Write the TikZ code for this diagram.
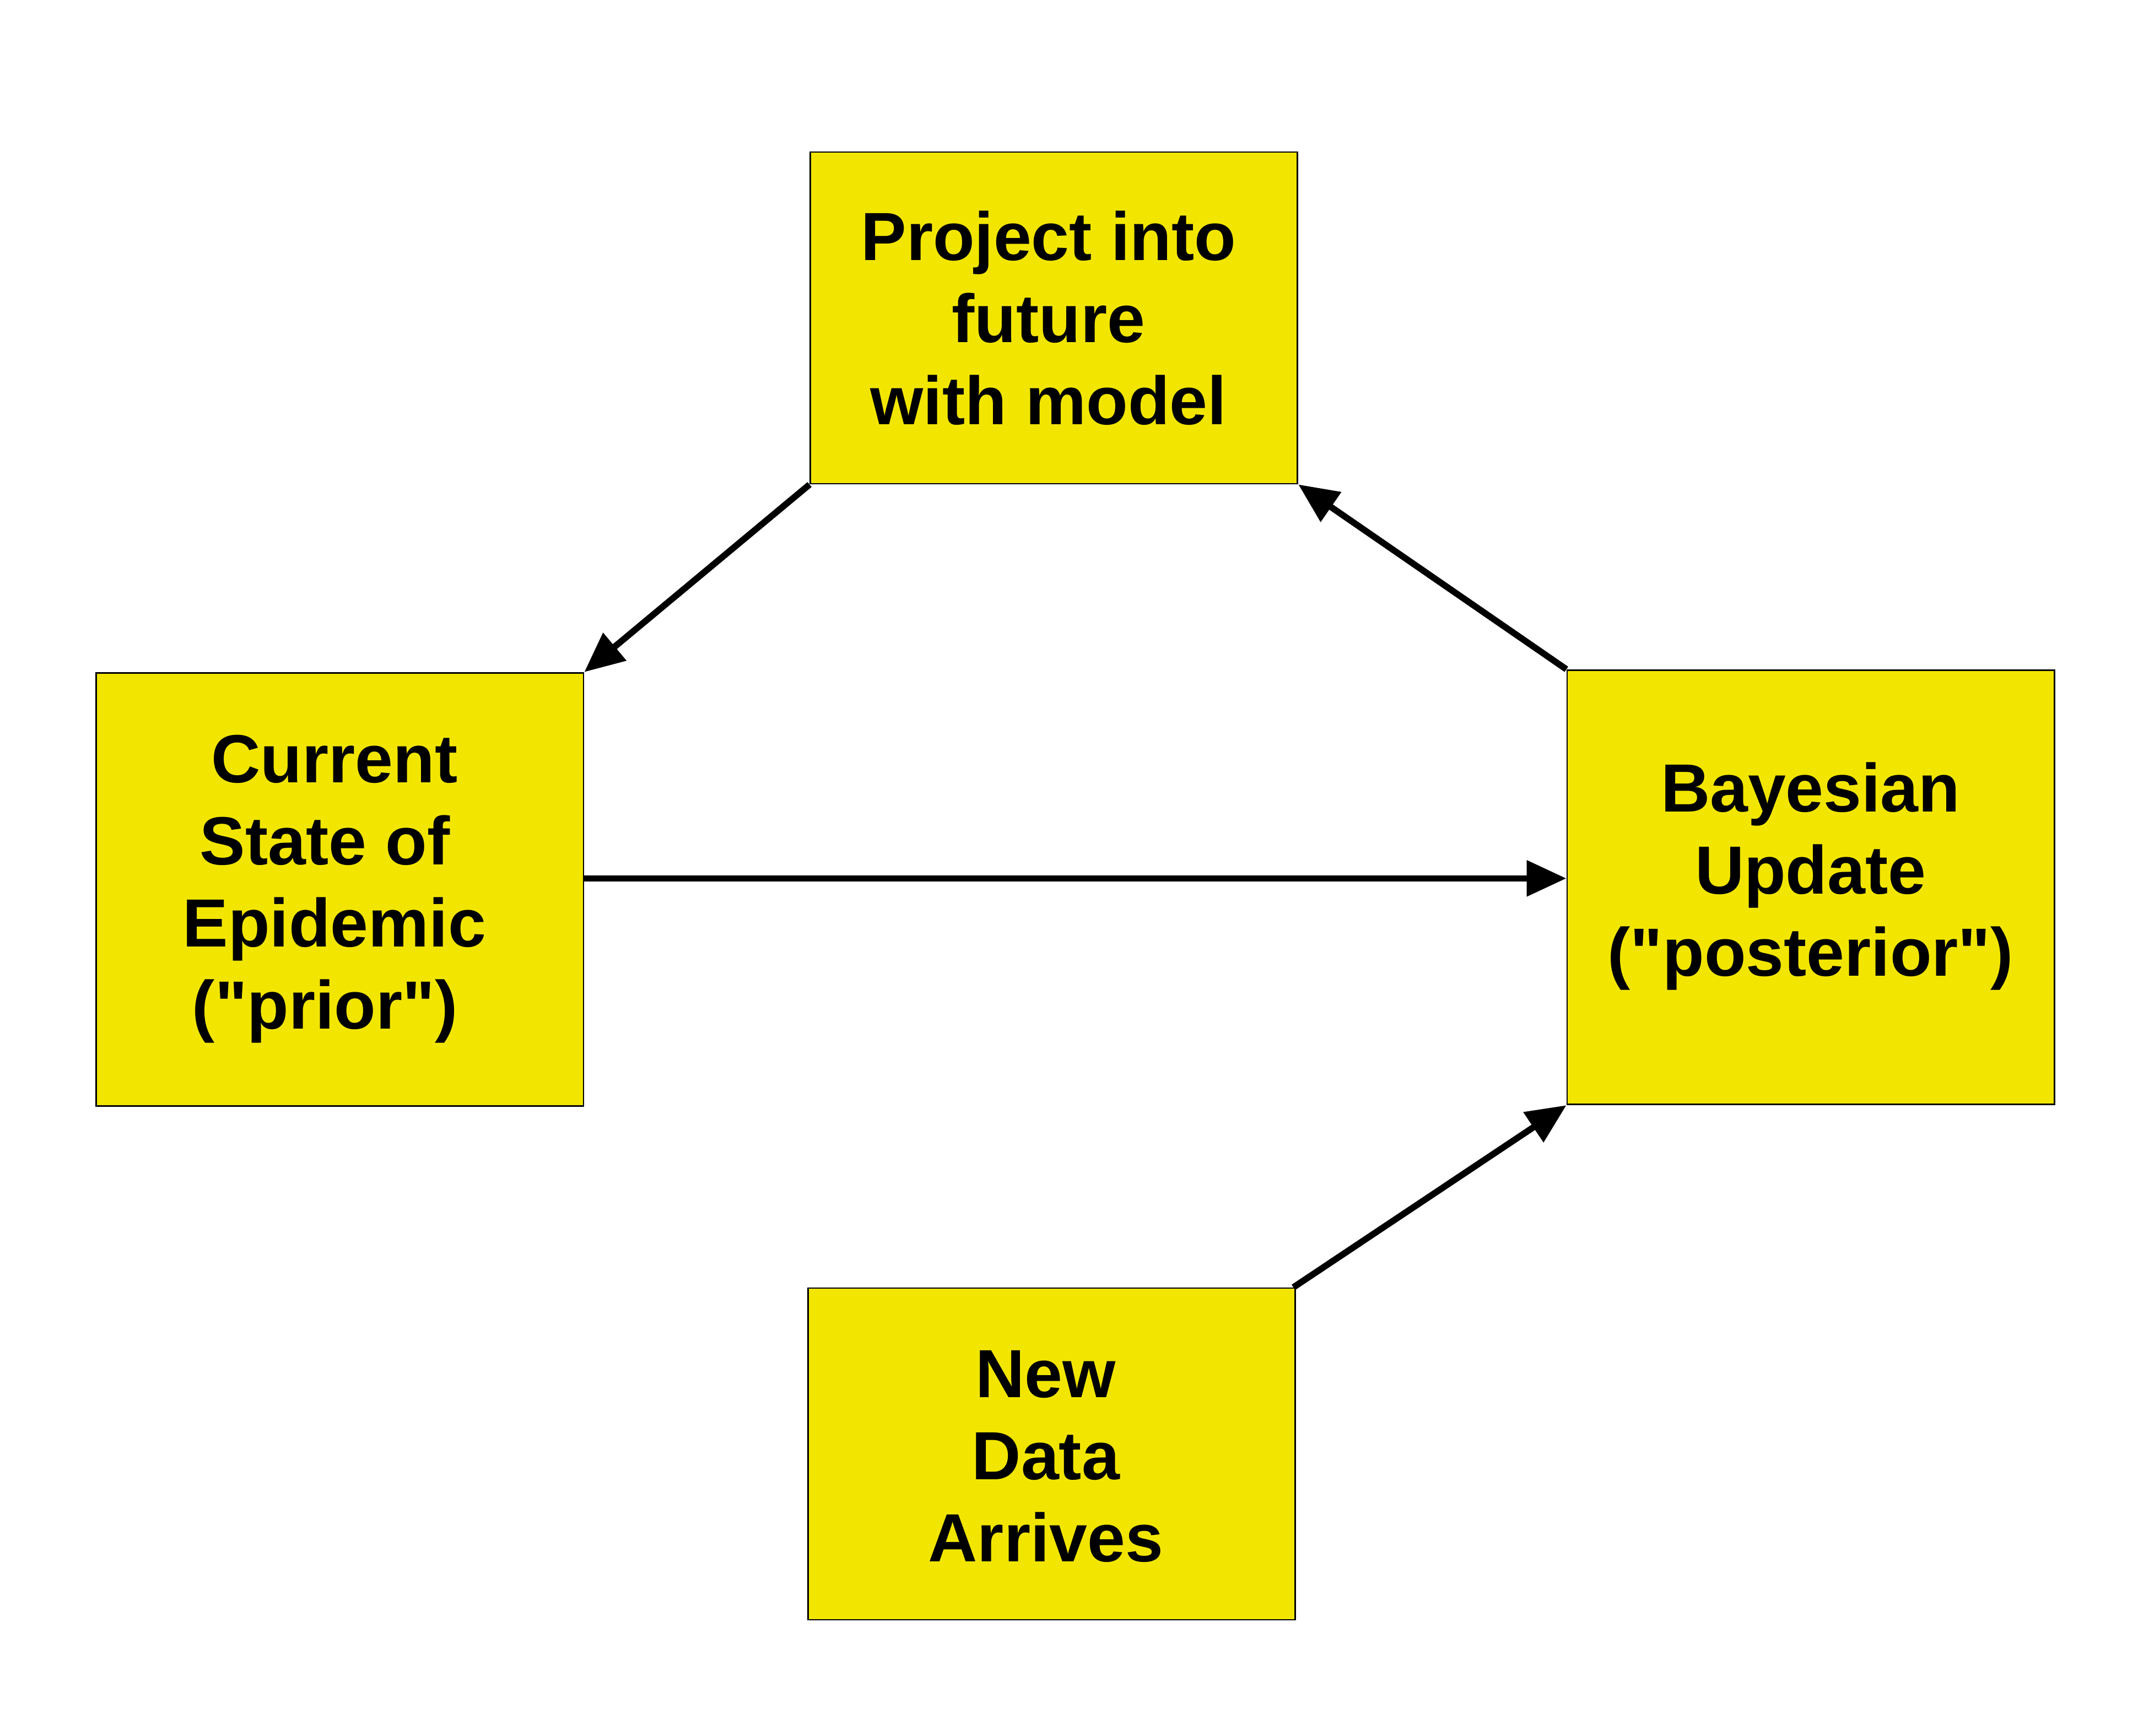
\documentclass[tikz,border=0pt]{standalone}
\usepackage{fontspec}
\setmainfont{Liberation Sans}[Ligatures=TeXOff]
\usetikzlibrary{arrows.meta,calc}
\definecolor{boxyellow}{RGB}{242,230,0}
\newcommand{\trsp}{\hbox to 0.278em{}}
\begin{document}
\begin{tikzpicture}[x=0.0248724cm, y=-0.0248724cm,
  yb/.style={draw=black, line width=0.8pt, fill=boxyellow, inner sep=0pt, minimum width=8.842cm},
  txt/.style={font=\fontsize{35.2pt}{42.4pt}\selectfont\bfseries, align=center, inner sep=0pt},
  arr/.style={line width=3.3pt, -{Triangle[length=20.5pt,width=18pt]}}]
\useasboundingbox (0,0) rectangle (1568,1266.5);
\node[yb, minimum height=6.019cm] (top) at (769,232) {};
\node[yb, minimum height=7.860cm] (left) at (248,649) {};
\node[yb, minimum height=7.885cm] (right) at (1321.2,647.5) {};
\node[yb, minimum height=6.019cm] (bottom) at (767.4,1061) {};
\node[txt] (topText) at (765,232) {Project into\\future\\with model};
\node[txt] (leftText) at (244,648.6) {Current\\State of\trsp\\Epidemic\\("prior")\trsp};
\node[txt] (rightText) at (1321,639.5) {Bayesian\\Update\\("posterior")};
\node[txt] (bottomText) at (763,1063) {New\\Data\\Arrives};
\coordinate (hy) at (800,641);
\draw[arr] (top.south west) -- (left.north east);
\draw[arr] (right.north west) -- (top.south east);
\draw[arr] (left.east |- hy) -- (right.west |- hy);
\draw[arr] ($(bottom.north east)+(-2,0)$) -- (right.south west);
\end{tikzpicture}
\end{document}
